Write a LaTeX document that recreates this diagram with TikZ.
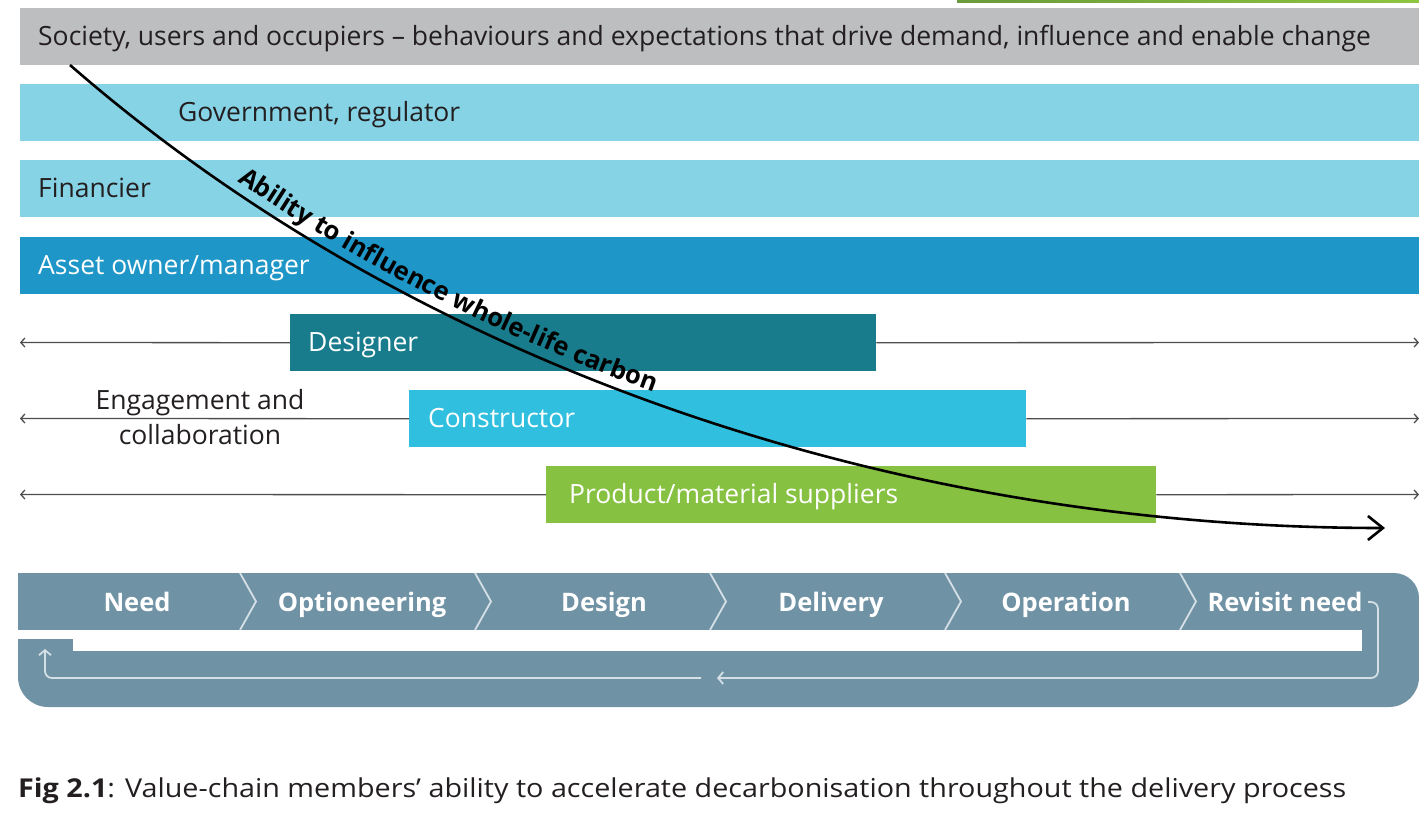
\documentclass[tikz,border=0pt]{standalone}
\usepackage{fontspec}
\usepackage{graphicx}
\setmainfont{Open Sans}
\usetikzlibrary{arrows.meta,decorations.text}
\definecolor{socgray}{HTML}{BCBEC0}
\definecolor{lightblue}{HTML}{86D3E6}
\definecolor{ownblue}{HTML}{1E96C8}
\definecolor{desteal}{HTML}{187C8C}
\definecolor{conblue}{HTML}{30BFDE}
\definecolor{supgreen}{HTML}{86C141}
\definecolor{procblue}{HTML}{7092A5}
\definecolor{chevline}{HTML}{D5E0E6}
\definecolor{txtdark}{HTML}{231F20}
\definecolor{engline}{HTML}{4D4D4D}
\definecolor{topgreenA}{HTML}{6A9A3A}
\definecolor{topgreenB}{HTML}{8DC63F}
\tikzset{
  bar/.style={anchor=north west, inner sep=0pt, minimum height=57pt, draw=none},
  barlbl/.style={anchor=base west, inner sep=0pt, font=\fontsize{26.5}{32}\selectfont, text=txtdark},
  barlblw/.style={barlbl, text=white},
  englink/.style={draw=engline, line width=1.3pt, -{Straight Barb[length=4pt,width=9pt]}},
  chev/.style={draw=chevline, line width=1.8pt},
  plbl/.style={anchor=base, inner sep=0pt, font=\fontsize{25.5}{30}\selectfont\bfseries, text=white},
  retline/.style={draw=chevline, line width=1.8pt, rounded corners=7pt},
  curveline/.style={draw=black, line width=2.6pt, -{Straight Barb[length=15pt,width=24pt,line width=2.6pt]}}
}
\begin{document}
\begin{tikzpicture}[x=1pt,y=1pt]
\useasboundingbox (0,0) rectangle (1419,-824);
% thin strip at top right
\shade[left color=topgreenA, right color=topgreenB] (957,0) rectangle (1419,-2.5);
% bars
\node[bar, fill=socgray, minimum width=1399pt] (soc) at (20,-8) {};
\node[bar, fill=lightblue, minimum width=1399pt] (gov) at (20,-84) {};
\node[bar, fill=lightblue, minimum width=1399pt] (fin) at (20,-160) {};
\node[bar, fill=ownblue, minimum width=1399pt] (own) at (20,-237) {};
\node[bar, fill=desteal, minimum width=586pt] (des) at (290,-314) {};
\node[bar, fill=conblue, minimum width=617pt] (con) at (409,-390) {};
\node[bar, fill=supgreen, minimum width=610pt] (sup) at (546,-466) {};
% bar labels
\node[barlbl] (socT) at (38,-45.5) {Society, users and occupiers -- behaviours and expectations that drive demand, influence and enable change};
\node[barlbl] (govT) at (178,-121.5) {Government, regulator};
\node[barlbl] (finT) at (38,-197.5) {Financier};
\node[barlblw] (ownT) at (38,-274.5) {Asset owner/manager};
\node[barlblw] (desT) at (308,-351.5) {Designer};
\node[barlblw] (conT) at (428,-427.5) {Constructor};
\node[barlblw] (supT) at (569,-503.5) {Product/material suppliers};
\node[barlbl, anchor=center, align=center, font=\fontsize{26.5}{35}\selectfont] (engT) at (200,-417) {Engagement and\\collaboration};
% engagement lines
\coordinate (dL) at (20,-342.5);
\coordinate (dR) at (1419,-342.5);
\coordinate (cL) at (20,-418.5);
\coordinate (cR) at (1419,-418.5);
\coordinate (sL) at (20,-494.5);
\coordinate (sR) at (1419,-494.5);
\draw[englink] (des.west) -- (dL);
\draw[englink] (des.east) -- (dR);
\draw[englink] (con.west) -- (cL);
\draw[englink] (con.east) -- (cR);
\draw[englink] (sup.west) -- (sL);
\draw[englink] (sup.east) -- (sR);
% process band
\fill[procblue] (18,-573) -- (1394,-573) arc[start angle=90,end angle=0,radius=25pt]
  -- (1419,-677) arc[start angle=0,end angle=-90,radius=30pt]
  -- (48,-707) arc[start angle=270,end angle=180,radius=30pt] -- cycle;
\fill[white] (18,-630) rectangle (1362,-639);
\fill[white] (73,-630) rectangle (1362,-651);
% chevrons
\foreach \xc in {240,475,710,945,1180}{
  \draw[chev] (\xc,-573) -- (\xc+16,-601.5) -- (\xc,-630);
}
\node[plbl] (pNeed) at (137,-611) {Need};
\node[plbl] (pOpt) at (362,-611) {Optioneering};
\node[plbl] (pDes) at (604,-611) {Design};
\node[plbl] (pDel) at (831,-611) {Delivery};
\node[plbl] (pOp) at (1066,-611) {Operation};
\node[plbl] (pRev) at (1285,-611) {Revisit need};
% return arrow
\coordinate (r0) at (1368,-602);
\coordinate (r1) at (1378,-602);
\coordinate (r2) at (1378,-678);
\coordinate (rA) at (717,-678);
\coordinate (rB) at (701,-678);
\coordinate (r3) at (45,-678);
\coordinate (r4) at (45,-649);
\draw[retline, -{Straight Barb[length=5pt,width=12pt]}] (r0) -- (r1) -- (r2) -- (rA);
\draw[retline, -{Straight Barb[length=5pt,width=12pt]}] (rB) -- (r3) -- (r4);
% curve
\coordinate (k0) at (70,-65);
\coordinate (k1) at (420,-370);
\coordinate (k2) at (900,-528);
\coordinate (k3) at (1385,-528);
\draw[curveline, postaction={decorate, decoration={text along path, raise=10pt, text align={left indent=204pt},
  text={|\fontsize{25.5}{26}\selectfont\bfseries|Ability to influence whole-life carbon}}}]
  (k0) .. controls (k1) and (k2) .. (k3);
% caption
\node[anchor=base west, inner sep=0pt, text=txtdark] (cap) at (18,-797) {\resizebox{1328pt}{\height}{\fontsize{26}{30}\selectfont\textbf{Fig 2.1}: Value-chain members’ ability to accelerate decarbonisation throughout the delivery process}};
\end{tikzpicture}
\end{document}
